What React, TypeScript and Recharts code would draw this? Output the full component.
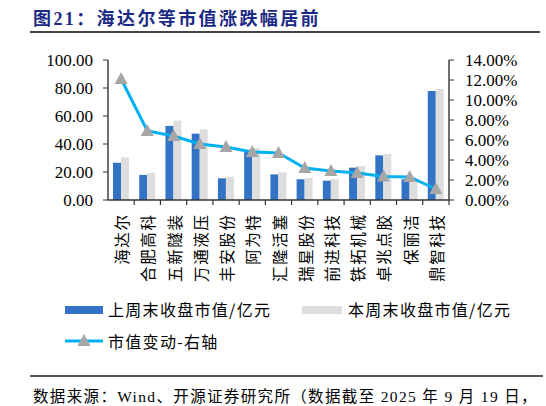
import React from "react";
import { ComposedChart, Bar, Line, XAxis, YAxis } from "recharts";

const names = ["海达尔", "合肥高科", "五新隧装", "万通液压", "丰安股份", "阿为特", "汇隆活塞", "瑞星股份", "前进科技", "铁拓机械", "卓兆点胶", "保丽洁", "鼎智科技"];
const lastWeek = [26.6, 17.9, 52.9, 47.4, 15.5, 34.5, 18.3, 14.8, 13.8, 23.1, 31.9, 14.8, 77.9];
const thisWeek = [30.5, 19.5, 56.7, 50.5, 16.7, 36.9, 19.8, 15.7, 14.8, 24.3, 32.9, 15.2, 79.3];
const change = [12.1, 6.9, 6.4, 5.6, 5.3, 4.8, 4.7, 3.2, 2.9, 2.7, 2.35, 2.3, 1.1];
const leftTicks = [0, 20, 40, 60, 80, 100];
const rightTicks = [0, 2, 4, 6, 8, 10, 12, 14];

const data = names.map((name, i) => ({
    name,
    last: lastWeek[i],
    curr: thisWeek[i],
    chg: change[i],
}));

const BLUE = "#3273C6";
const GREY = "#DEDEDE";
const LINE = "#00B0F0";
const TRI = "#A6A6A6";
const AXIS = "#333333";
const SERIF = "Liberation Serif";
const CJK = "Noto Sans CJK SC";

const Triangle = (props: any) => {
    const { cx, cy } = props;
    if (cx == null || cy == null) return null;
    return <polygon points={`${cx},${cy - 7} ${cx - 6.5},${cy + 5} ${cx + 6.5},${cy + 5}`} fill={TRI} />;
};

const CategoryTick = (props: any) => {
    const { x, y, payload } = props;
    const off = payload && payload.offset ? payload.offset : 13.1;
    return (
        <g>
            <line x1={x + off} y1={y} x2={x + off} y2={y + 5} stroke={AXIS} strokeWidth={1.2} />
            <text
                transform={`translate(${x},${y + 13.5}) rotate(-90)`}
                textAnchor="end"
                dominantBaseline="central"
                fontSize={15.5}
                fill="#000"
                letterSpacing={1.6}
                style={{ fontFamily: CJK }}
            >
                {payload.value}
            </text>
        </g>
    );
};

const NumTick = (props: any) => {
    const { x, y, payload, anchor, suffix } = props;
    return (
        <text x={x} y={y} textAnchor={anchor} dominantBaseline="central" fontSize={17} fill="#000" style={{ fontFamily: SERIF }}>
            {`${Number(payload.value).toFixed(2)}${suffix}`}
        </text>
    );
};

const legendText: React.CSSProperties = {
    position: "absolute",
    fontSize: 16,
    letterSpacing: 1.3,
    fontFamily: CJK,
    whiteSpace: "nowrap",
    lineHeight: "20px",
};

export default function App() {
    return (
        <div style={{ position: "absolute", left: 0, top: 0, width: 546, height: 406, background: "#fff" }}>
            <div style={{ position: "absolute", left: 33, top: 4, fontSize: 18, fontWeight: "bold", color: "#1B2A85", letterSpacing: 2.4, whiteSpace: "nowrap", fontFamily: `'${SERIF}', '${CJK}'` }}>
                图21：海达尔等市值涨跌幅居前
            </div>
            <div style={{ position: "absolute", left: 30, top: 31, width: 510, height: 1.5, background: "#444" }} />

            <ComposedChart
                width={546}
                height={406}
                data={data}
                margin={{ top: 60, right: 37, bottom: 116, left: 48 }}
                barGap={0}
                barCategoryGap="30%"
                style={{ position: "absolute", left: 0, top: 0 }}
            >
                <XAxis
                    dataKey="name"
                    interval={0}
                    height={90}
                    tickLine={false}
                    tickSize={0}
                    tickMargin={0}
                    axisLine={{ stroke: AXIS, strokeWidth: 1.4 }}
                    tick={<CategoryTick />}
                />
                <YAxis
                    yAxisId="left"
                    width={60}
                    domain={[0, 100]}
                    ticks={leftTicks}
                    interval={0}
                    tickSize={5}
                    tickMargin={10}
                    tickLine={{ stroke: AXIS }}
                    axisLine={{ stroke: AXIS, strokeWidth: 1.4 }}
                    tick={<NumTick anchor="end" suffix="" />}
                />
                <YAxis
                    yAxisId="right"
                    orientation="right"
                    width={60}
                    domain={[0, 14]}
                    ticks={rightTicks}
                    interval={0}
                    tickSize={5}
                    tickMargin={11}
                    tickLine={{ stroke: AXIS }}
                    axisLine={{ stroke: AXIS, strokeWidth: 1.4 }}
                    tick={<NumTick anchor="start" suffix="%" />}
                />
                <Bar yAxisId="left" dataKey="last" fill={BLUE} barSize={8} isAnimationActive={false} />
                <Bar yAxisId="left" dataKey="curr" fill={GREY} barSize={8} isAnimationActive={false} />
                <Line
                    yAxisId="right"
                    type="linear"
                    dataKey="chg"
                    stroke={LINE}
                    strokeWidth={3}
                    dot={<Triangle />}
                    activeDot={false}
                    isAnimationActive={false}
                />
            </ComposedChart>

            <div style={{ position: "absolute", left: 65, top: 306, width: 38, height: 8, background: BLUE }} />
            <div style={{ ...legendText, left: 108, top: 299 }}>上周末收盘市值/亿元</div>
            <div style={{ position: "absolute", left: 302, top: 306, width: 40, height: 8, background: GREY }} />
            <div style={{ ...legendText, left: 348, top: 299 }}>本周末收盘市值/亿元</div>
            <svg style={{ position: "absolute", left: 63, top: 333 }} width={42} height={16}>
                <line x1={2} y1={8} x2={40} y2={8} stroke={LINE} strokeWidth={3} />
                <polygon points="21,1 14.5,13 27.5,13" fill={TRI} />
            </svg>
            <div style={{ ...legendText, left: 108, top: 331 }}>市值变动-右轴</div>

            <div style={{ position: "absolute", left: 30, top: 375, width: 513, height: 1.5, background: "#555" }} />
            <div style={{ position: "absolute", left: 33, top: 384, fontSize: 15.5, letterSpacing: 1.35, whiteSpace: "nowrap", fontFamily: `'${SERIF}', '${CJK}'` }}>
                数据来源：Wind、开源证券研究所（数据截至 2025 年 9 月 19 日，
            </div>
        </div>
    );
}
